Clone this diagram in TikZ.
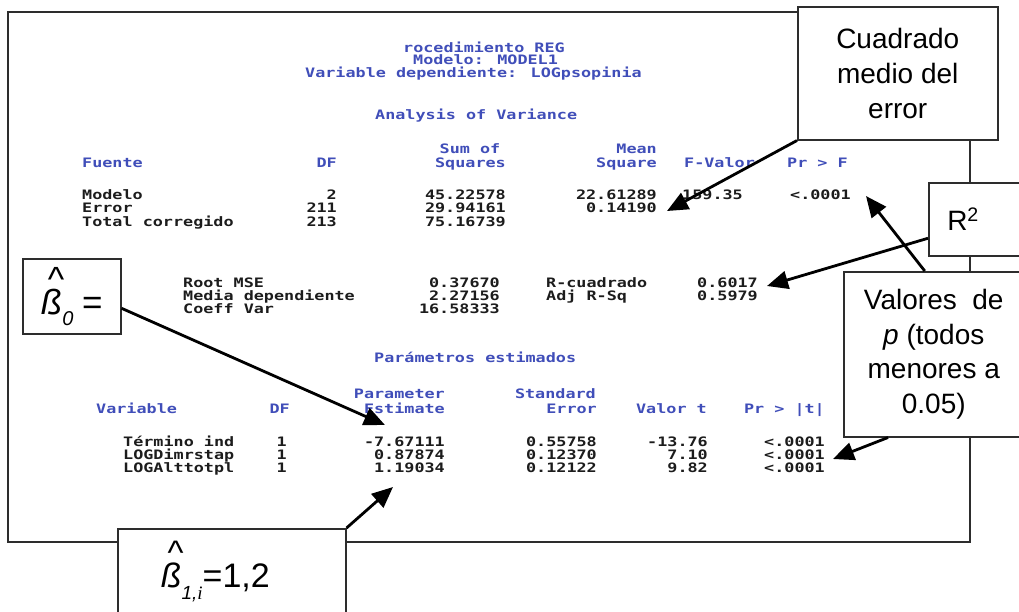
\documentclass[tikz,border=0pt]{standalone}
\usepackage{fontspec}
\setmainfont{Liberation Sans}
\newfontfamily\sas{DejaVu Sans Mono}[FakeStretch=1.29]
\newfontfamily\serifit{Liberation Serif}
\usetikzlibrary{arrows.meta}
\definecolor{sasblue}{RGB}{64,78,185}
\definecolor{sasblack}{RGB}{28,28,28}
\definecolor{framegray}{RGB}{45,45,45}
\newcommand\hatss{\makebox[0pt][l]{\hspace{0.2em}\raisebox{0.68em}{\upshape\textasciicircum}}\textit{ß}}
\tikzset{
  hd/.style={font=\sas\bfseries\fontsize{13}{13}\selectfont, text=sasblue, inner sep=0pt},
  dt/.style={font=\sas\bfseries\fontsize{13}{13}\selectfont, text=sasblack, inner sep=0pt},
  callout/.style={draw=framegray, line width=1.5pt, fill=white, inner sep=0pt, align=center, font=\fontsize{28}{35}\selectfont},
  ptr/.style={line width=2.8pt, -{Triangle[length=21pt,width=18pt]}, black},
  bw/.style={anchor=base west},
  be/.style={anchor=base east},
}
\begin{document}
\begin{tikzpicture}[x=1pt,y=-1pt]
\useasboundingbox (0,0) rectangle (1019,611);
\fill[white] (0,0) rectangle (1019,611);
\clip (0,0) rectangle (1019,611);
% outer frame of the printout
\draw[framegray, line width=2pt] (8,12) rectangle (970,542);
% titles
\node[hd,bw] (t1) at (403,52) {rocedimiento REG};
\node[hd,bw] (t2) at (413,64.5) {Modelo: MODEL1};
\node[hd,bw] (t3) at (305,77) {Variable dependiente: LOGpsopinia};
\node[hd,bw] (t4) at (375,119) {Analysis of Variance};
% ANOVA header
\node[hd,anchor=base] (h1) at (470,153) {Sum of};
\node[hd,be] (h2) at (657,153) {Mean};
\node[hd,bw] (h3) at (82,167) {Fuente};
\node[hd,be] (h4) at (337,167) {DF};
\node[hd,be] (h5) at (506,167) {Squares};
\node[hd,be] (h6) at (657,167) {Square};
\node[hd,bw] (h7) at (684,167) {F-Valor};
\node[hd,bw] (h8) at (787,167) {Pr > F};
% ANOVA rows
\node[dt,bw] (a1) at (82,199) {Modelo};
\node[dt,bw] (a2) at (82,212.5) {Error};
\node[dt,bw] (a3) at (82,226) {Total corregido};
\node[dt,be] (b1n) at (337,199) {2};
\node[dt,be] (b2n) at (337,212.5) {211};
\node[dt,be] (b3n) at (337,226) {213};
\node[dt,be] (c1) at (506,199) {45.22578};
\node[dt,be] (c2) at (506,212.5) {29.94161};
\node[dt,be] (c3) at (506,226) {75.16739};
\node[dt,be] (d1) at (657,199) {22.61289};
\node[dt,be] (d2) at (657,212.5) {0.14190};
\node[dt,be] (e1) at (743,199) {159.35};
\node[dt,bw] (f1) at (790,199) {<.0001};
% fit statistics
\node[dt,bw] (g1) at (183,287) {Root MSE};
\node[dt,bw] (g2) at (183,300) {Media dependiente};
\node[dt,bw] (g3) at (183,313) {Coeff Var};
\node[dt,be] (k1) at (500,287) {0.37670};
\node[dt,be] (k2) at (500,300) {2.27156};
\node[dt,be] (k3) at (500,313) {16.58333};
\node[dt,bw] (m1) at (546,287) {R-cuadrado};
\node[dt,bw] (m2) at (546,300) {Adj R-Sq};
\node[dt,be] (q1) at (758,287) {0.6017};
\node[dt,be] (q2) at (758,300) {0.5979};
% parameter estimates
\node[hd,bw] (t5) at (374,362) {Parámetros estimados};
\node[hd,be] (p1) at (445,398) {Parameter};
\node[hd,be] (p2) at (596,398) {Standard};
\node[hd,bw] (p3) at (96,413) {Variable};
\node[hd,be] (p4) at (290,413) {DF};
\node[hd,be] (p5) at (445,413) {Estimate};
\node[hd,be] (p6) at (597,413) {Error};
\node[hd,be] (p7) at (707,413) {Valor t};
\node[hd,be] (p8) at (825,413) {Pr > |t|};
\node[dt,bw] (r1) at (123,446) {Término ind};
\node[dt,bw] (r2n) at (123,459) {LOGDimrstap};
\node[dt,bw] (r3) at (123,472) {LOGAlttotpl};
\node[dt,be] (s1) at (287,446) {1};
\node[dt,be] (s2) at (287,459) {1};
\node[dt,be] (s3) at (287,472) {1};
\node[dt,be] (u1) at (445,446) {-7.67111};
\node[dt,be] (u2) at (445,459) {0.87874};
\node[dt,be] (u3) at (445,472) {1.19034};
\node[dt,be] (v1) at (597,446) {0.55758};
\node[dt,be] (v2) at (597,459) {0.12370};
\node[dt,be] (v3) at (597,472) {0.12122};
\node[dt,be] (w1) at (708,446) {-13.76};
\node[dt,be] (w2) at (708,459) {7.10};
\node[dt,be] (w3) at (708,472) {9.82};
\node[dt,be] (z1) at (825,446) {<.0001};
\node[dt,be] (z2) at (825,459) {<.0001};
\node[dt,be] (z3) at (825,472) {<.0001};
% callout boxes
\node[callout, anchor=north west, minimum width=200pt, minimum height=133pt] (cme) at (797,6) {Cuadrado\\medio del\\error};
\node[callout, anchor=north west, minimum width=97pt, minimum height=73pt, text width=60pt, align=left] (r2) at (928,182) {R\textsuperscript{2}};
\node[callout, anchor=north west, minimum width=180pt, minimum height=165pt, font=\fontsize{28}{34.5}\selectfont] (val) at (843,271) {Valores\ \ de\\\textit{p} (todos\\menores a\\0.05)};
\node[callout, anchor=north west, minimum width=98pt, minimum height=75pt, font=\fontsize{35}{40}\selectfont] (b0) at (22,258) {\hatss\raisebox{-0.3em}{\fontsize{20}{20}\selectfont\itshape 0}\hspace{0.25em}=};
\node[callout, anchor=north west, minimum width=228pt, minimum height=86pt, text width=142pt, align=left, font=\fontsize{34}{38}\selectfont] (b1) at (117,528) {\hatss\raisebox{-0.35em}{\fontsize{19}{19}\selectfont\itshape 1,{\serifit i}}=1,2};
% pointers
\coordinate (tMS) at (667,211);
\coordinate (tR2) at (767,286);
\coordinate (tPF) at (866,196);
\coordinate (tPt) at (833,459);
\coordinate (tB0) at (385,425);
\coordinate (tB1) at (393,487);
\draw[ptr] (cme.south west) -- (tMS);
\draw[ptr] ([yshift=-19pt]r2.west) -- (tR2);
\draw[ptr] ([xshift=-9pt]val.north) -- (tPF);
\draw[ptr] ([xshift=45pt]val.south west) -- (tPt);
\draw[ptr] ([yshift=-12pt]b0.east) -- (tB0);
\draw[ptr] (b1.north east) -- (tB1);
\end{tikzpicture}
\end{document}
